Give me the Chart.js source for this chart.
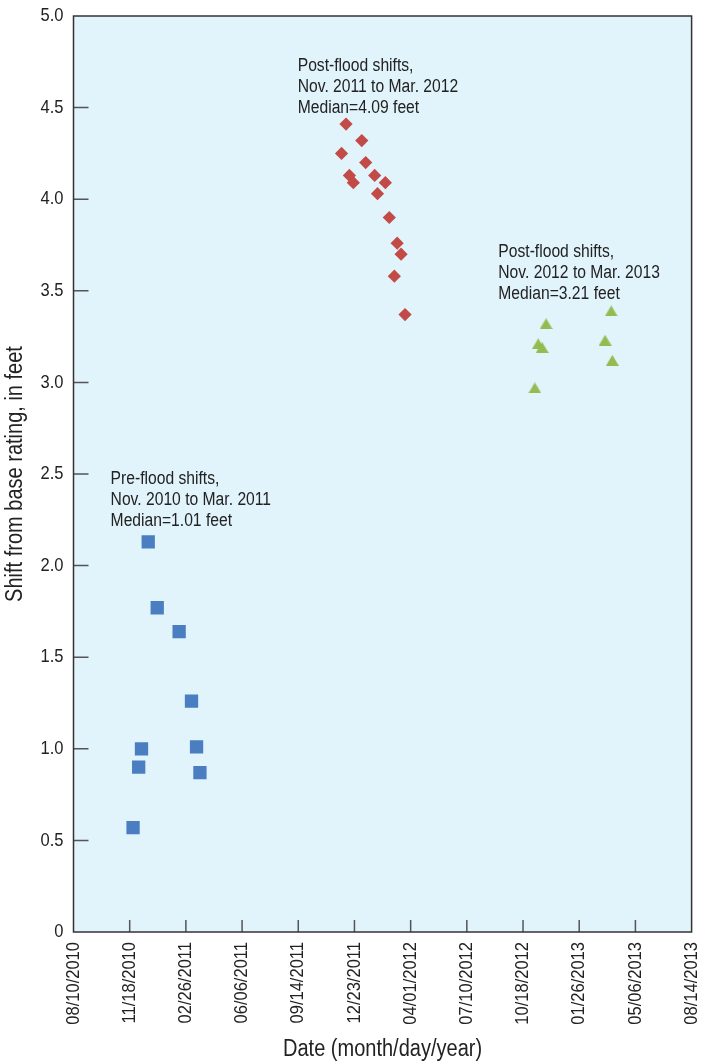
<!DOCTYPE html>
<html>
<head>
<meta charset="utf-8">
<script src="https://cdn.jsdelivr.net/npm/chart.js@4.4.1/dist/chart.umd.min.js"></script>
<style>
  html, body { margin: 0; padding: 0; background: #ffffff; }
  #wrap { width: 701px; height: 1063px; }
</style>
</head>
<body>
<div id="wrap"><canvas id="chart" width="701" height="1063"></canvas></div>
<script>
// Axis tick labels (dates every 100 days) and shift ticks
const xTickLabels = ['08/10/2010', '11/18/2010', '02/26/2011', '06/06/2011', '09/14/2011', '12/23/2011',
                     '04/01/2012', '07/10/2012', '10/18/2012', '01/26/2013', '05/06/2013', '08/14/2013'];
const yTickValues = [0, 0.5, 1.0, 1.5, 2.0, 2.5, 3.0, 3.5, 4.0, 4.5, 5.0];

// Pre-flood shifts, Nov. 2010 to Mar. 2011
const preFloodDates  = ['11/24/2010', '12/04/2010', '12/09/2010', '12/21/2010', '01/06/2011',
                        '02/14/2011', '03/08/2011', '03/17/2011', '03/23/2011'];
const preFloodShifts = [0.57, 0.90, 1.00, 2.13, 1.77, 1.64, 1.26, 1.01, 0.87];

// Post-flood shifts, Nov. 2011 to Mar. 2012
const post2012Dates  = ['11/30/2011', '12/08/2011', '12/14/2011', '12/21/2011', '01/05/2012', '01/12/2012',
                        '01/28/2012', '02/02/2012', '02/16/2012', '02/23/2012', '03/03/2012', '03/08/2012',
                        '03/15/2012', '03/22/2012'];
const post2012Shifts = [4.25, 4.41, 4.13, 4.09, 4.32, 4.20, 4.13, 4.03, 4.09, 3.90, 3.58, 3.76, 3.70, 3.37];

// Post-flood shifts, Nov. 2012 to Mar. 2013
const post2013Dates  = ['11/08/2012', '11/14/2012', '11/21/2012', '11/28/2012', '03/13/2013', '03/24/2013', '03/26/2013'];
const post2013Shifts = [2.97, 3.21, 3.19, 3.32, 3.23, 3.39, 3.12];

// Group captions: heading lines, anchor date and anchor shift of the first baseline
const groupHeadings = [
  ['Pre-flood shifts,', 'Nov. 2010 to Mar. 2011'],
  ['Post-flood shifts,', 'Nov. 2011 to Mar. 2012'],
  ['Post-flood shifts,', 'Nov. 2012 to Mar. 2013']
];
const groupAnchorDates  = ['10/15/2010', '09/13/2011', '09/04/2012'];
const groupAnchorShifts = [2.445, 4.701, 3.686];

const xTitle = 'Date (month/day/year)';
const yTitle = 'Shift from base rating, in feet';

const FONT = "'Liberation Sans', Arimo, Arial, sans-serif";
const TEXT = '#222222';
const NARROW = 0.87;   // horizontal squeeze for a condensed look

function toDay(s) {
  const [m, d, y] = s.split('/').map(Number);
  return Date.UTC(y, m - 1, d) / 86400000;
}
function median(arr) {
  const s = [...arr].sort((a, b) => a - b);
  const n = s.length;
  return n % 2 ? s[(n - 1) / 2] : (s[n / 2 - 1] + s[n / 2]) / 2;
}
function points(dates, values) {
  return dates.map((d, i) => ({ x: toDay(d), y: values[i] }));
}
function makeTriangle(w, h, color) {
  const c = document.createElement('canvas');
  c.width = w; c.height = h;
  const g = c.getContext('2d');
  g.fillStyle = color;
  g.beginPath();
  g.moveTo(w / 2, 0);
  g.lineTo(w, h);
  g.lineTo(0, h);
  g.closePath();
  g.fill();
  return c;
}
// condensed text: draw with a horizontal squeeze along the text direction
function narrowText(ctx, text, x, y, size, align, baseline, rotation) {
  ctx.save();
  ctx.translate(x, y);
  if (rotation) ctx.rotate(rotation);
  ctx.scale(NARROW, 1);
  ctx.font = size + 'px ' + FONT;
  ctx.fillStyle = TEXT;
  ctx.textAlign = align;
  ctx.textBaseline = baseline;
  ctx.fillText(text, 0, 0);
  ctx.restore();
}

const groupMedians = [median(preFloodShifts), median(post2012Shifts), median(post2013Shifts)];

const framePlugin = {
  id: 'frame',
  beforeDraw(chart) {
    const { ctx, chartArea: a } = chart;
    ctx.save();
    ctx.fillStyle = '#e1f3fb';
    ctx.fillRect(a.left, a.top, a.right - a.left, a.bottom - a.top);
    ctx.restore();
  },
  beforeDatasetsDraw(chart) {
    const { ctx, chartArea: a, scales } = chart;
    ctx.save();
    ctx.strokeStyle = '#555555';
    ctx.lineWidth = 1.5;
    ctx.beginPath();
    // inward tick marks on the left axis
    scales.y.ticks.forEach(t => {
      const py = scales.y.getPixelForValue(t.value);
      if (py <= a.top + 1 || py >= a.bottom - 1) return;
      ctx.moveTo(a.left, py);
      ctx.lineTo(a.left + 15, py);
    });
    // inward tick marks on the bottom axis
    scales.x.ticks.forEach(t => {
      const px = scales.x.getPixelForValue(t.value);
      if (px <= a.left + 1 || px >= a.right - 1) return;
      ctx.moveTo(px, a.bottom);
      ctx.lineTo(px, a.bottom - 12);
    });
    ctx.stroke();
    ctx.restore();
  },
  afterDatasetsDraw(chart) {
    const { ctx, chartArea: a, scales } = chart;
    ctx.save();
    ctx.strokeStyle = '#333333';
    ctx.lineWidth = 1.5;
    ctx.strokeRect(a.left, a.top, a.right - a.left, a.bottom - a.top);
    ctx.restore();

    // tick labels
    scales.y.ticks.forEach(t => {
      const py = scales.y.getPixelForValue(t.value);
      narrowText(ctx, t.value === 0 ? '0' : t.value.toFixed(1), a.left - 10, py, 19, 'right', 'middle', 0);
    });
    scales.x.ticks.forEach((t, i) => {
      const px = scales.x.getPixelForValue(t.value);
      narrowText(ctx, xTickLabels[i], px, a.bottom + 10, 19, 'right', 'middle', -Math.PI / 2);
    });

    // axis titles
    narrowText(ctx, xTitle, (a.left + a.right) / 2, 1050, 23, 'center', 'middle', 0);
    narrowText(ctx, yTitle, 15.5, (a.top + a.bottom) / 2, 23, 'center', 'middle', -Math.PI / 2);

    // group captions
    groupHeadings.forEach((lines, i) => {
      const px = scales.x.getPixelForValue(toDay(groupAnchorDates[i]));
      const py = scales.y.getPixelForValue(groupAnchorShifts[i]);
      const all = lines.concat(['Median=' + groupMedians[i].toFixed(2) + ' feet']);
      all.forEach((s, k) => narrowText(ctx, s, px, py + k * 21, 18, 'left', 'alphabetic', 0));
    });
  }
};

new Chart(document.getElementById('chart'), {
  type: 'scatter',
  data: {
    datasets: [
      {
        label: 'Pre-flood shifts',
        data: points(preFloodDates, preFloodShifts),
        pointStyle: 'rect',
        pointRadius: 9.4,
        backgroundColor: '#4a7ec1',
        borderWidth: 0
      },
      {
        label: 'Post-flood shifts 2011-2012',
        data: points(post2012Dates, post2012Shifts),
        pointStyle: 'rectRot',
        pointRadius: 6.6,
        backgroundColor: '#c24b48',
        borderWidth: 0
      },
      {
        label: 'Post-flood shifts 2012-2013',
        data: points(post2013Dates, post2013Shifts),
        pointStyle: makeTriangle(13, 11, '#92bb50'),
        pointRadius: 6,
        backgroundColor: '#92bb50',
        borderWidth: 0
      }
    ]
  },
  options: {
    responsive: false,
    animation: false,
    devicePixelRatio: 1,
    layout: { padding: { top: 16, right: 7.5, bottom: 0, left: 0 } },
    plugins: { legend: { display: false }, tooltip: { enabled: false } },
    scales: {
      x: {
        type: 'linear',
        min: toDay(xTickLabels[0]),
        max: toDay(xTickLabels[xTickLabels.length - 1]),
        afterBuildTicks: s => { s.ticks = xTickLabels.map(l => ({ value: toDay(l) })); },
        afterFit: s => { s.height = 131; s.paddingLeft = 0; s.paddingRight = 0; },
        grid: { display: false },
        border: { display: false },
        ticks: { display: false },
        title: { display: false }
      },
      y: {
        type: 'linear',
        min: 0,
        max: 5,
        afterBuildTicks: s => { s.ticks = yTickValues.map(v => ({ value: v })); },
        afterFit: s => { s.width = 73.5; s.paddingTop = 0; s.paddingBottom = 0; },
        grid: { display: false },
        border: { display: false },
        ticks: { display: false },
        title: { display: false }
      }
    }
  },
  plugins: [framePlugin]
});
</script>
</body>
</html>
